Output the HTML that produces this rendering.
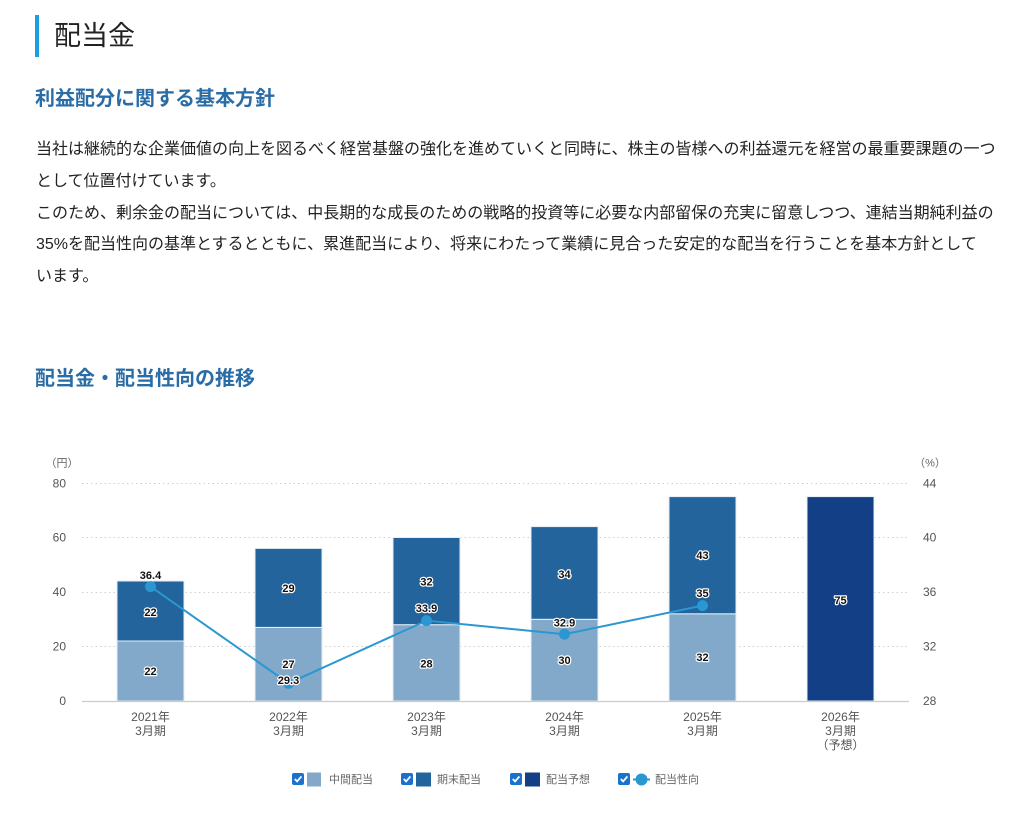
<!DOCTYPE html>
<html lang="ja">
<head>
<meta charset="utf-8">
<style>
  html,body{margin:0;padding:0;background:#fff;}
  body{width:1024px;height:821px;position:relative;overflow:hidden;font-family:"Liberation Sans","Noto Sans CJK JP",sans-serif;}
  .bar{position:absolute;left:35px;top:15px;width:4px;height:42px;background:#1d9ee0;}
  .title{position:absolute;left:54px;top:15px;font-size:27px;line-height:42px;color:#222;font-family:"Liberation Sans","Noto Sans CJK JP",sans-serif;font-weight:400;white-space:nowrap;}
  .h2{position:absolute;left:35px;font-size:20px;font-weight:bold;color:#2a6ca6;white-space:nowrap;line-height:28px;}
  .p{position:absolute;left:36px;top:134px;font-size:16px;line-height:31.8px;color:#222;white-space:nowrap;}
  svg{position:absolute;left:0;top:0;}
  .t{font-family:"Liberation Sans","Noto Sans CJK JP",sans-serif;}
</style>
</head>
<body>
<div class="bar"></div>
<div class="title">配当金</div>
<div class="h2" style="top:85px;">利益配分に関する基本方針</div>
<div class="p">当社は継続的な企業価値の向上を図るべく経営基盤の強化を進めていくと同時に、株主の皆様への利益還元を経営の最重要課題の一つ<br>として位置付けています。<br>このため、剰余金の配当については、中長期的な成長のための戦略的投資等に必要な内部留保の充実に留意しつつ、連結当期純利益の<br>35%を配当性向の基準とするとともに、累進配当により、将来にわたって業績に見合った安定的な配当を行うことを基本方針として<br>います。</div>
<div class="h2" style="top:365px;">配当金・配当性向の推移</div>

<svg width="1024" height="821" viewBox="0 0 1024 821">
  <!-- gridlines -->
  <g stroke="#cfcfcf" stroke-width="1" stroke-dasharray="1.5,3">
    <line x1="82" y1="483.5" x2="908" y2="483.5"/>
    <line x1="82" y1="537.5" x2="908" y2="537.5"/>
    <line x1="82" y1="592.5" x2="908" y2="592.5"/>
    <line x1="82" y1="646.5" x2="908" y2="646.5"/>
  </g>
  <!-- bars -->
  <g stroke="#e6eef6" stroke-width="1">
    <rect x="117" y="641" width="67" height="60" fill="#82a9c9"/>
    <rect x="117" y="581" width="67" height="60" fill="#22649b"/>
    <rect x="255" y="627.4" width="67" height="73.6" fill="#82a9c9"/>
    <rect x="255" y="548.4" width="67" height="79" fill="#22649b"/>
    <rect x="393" y="624.7" width="67" height="76.3" fill="#82a9c9"/>
    <rect x="393" y="537.5" width="67" height="87.2" fill="#22649b"/>
    <rect x="531" y="619.3" width="67" height="81.7" fill="#82a9c9"/>
    <rect x="531" y="526.6" width="67" height="92.7" fill="#22649b"/>
    <rect x="669" y="613.8" width="67" height="87.2" fill="#82a9c9"/>
    <rect x="669" y="496.6" width="67" height="117.2" fill="#22649b"/>
    <rect x="807" y="496.6" width="67" height="204.4" fill="#123f85"/>
  </g>
  <!-- baseline -->
  <line x1="82" y1="701.5" x2="909" y2="701.5" stroke="#cccccc" stroke-width="1.2"/>
  <!-- left axis -->
  <g class="t" font-size="12" fill="#555" text-anchor="end">
    <text x="66" y="487.5">80</text>
    <text x="66" y="541.5">60</text>
    <text x="66" y="596">40</text>
    <text x="66" y="650.5">20</text>
    <text x="66" y="705">0</text>
  </g>
  <text class="t" x="62" y="466.5" font-size="11" fill="#666" text-anchor="middle">（円）</text>
  <!-- right axis -->
  <g class="t" font-size="12" fill="#555" text-anchor="start">
    <text x="923" y="487.5">44</text>
    <text x="923" y="541.5">40</text>
    <text x="923" y="596">36</text>
    <text x="923" y="650.5">32</text>
    <text x="923" y="705">28</text>
  </g>
  <text class="t" x="930" y="466.5" font-size="11" fill="#666" text-anchor="middle">（%）</text>
  <!-- x labels -->
  <g class="t" font-size="12" fill="#555" text-anchor="middle">
    <text x="150.5" y="721">2021年</text><text x="150.5" y="735">3月期</text>
    <text x="288.5" y="721">2022年</text><text x="288.5" y="735">3月期</text>
    <text x="426.5" y="721">2023年</text><text x="426.5" y="735">3月期</text>
    <text x="564.5" y="721">2024年</text><text x="564.5" y="735">3月期</text>
    <text x="702.5" y="721">2025年</text><text x="702.5" y="735">3月期</text>
    <text x="840.5" y="721">2026年</text><text x="840.5" y="735">3月期</text>
    <text x="840.5" y="749">（予想）</text>
  </g>
  <!-- line -->
  <polyline points="150.5,586.6 288.5,683.3 426.5,620.6 564.5,634.2 702.5,605.6" fill="none" stroke="#2a97d2" stroke-width="2"/>
  <g fill="#2a97d2">
    <circle cx="150.5" cy="586.6" r="5.5"/>
    <circle cx="288.5" cy="683.3" r="5.5"/>
    <circle cx="426.5" cy="620.6" r="5.5"/>
    <circle cx="564.5" cy="634.2" r="5.5"/>
    <circle cx="702.5" cy="605.6" r="5.5"/>
  </g>
  <!-- data labels -->
  <g class="t" font-size="11" font-weight="bold" fill="#111" text-anchor="middle" stroke="#fff" stroke-width="2.4" stroke-linejoin="round" paint-order="stroke">
    <text x="150.5" y="675">22</text>
    <text x="150.5" y="616">22</text>
    <text x="288.5" y="668">27</text>
    <text x="288.5" y="592">29</text>
    <text x="426.5" y="667.5">28</text>
    <text x="426.5" y="585.5">32</text>
    <text x="564.5" y="664">30</text>
    <text x="564.5" y="578">34</text>
    <text x="702.5" y="661">32</text>
    <text x="702.5" y="559">43</text>
    <text x="840.5" y="604">75</text>
    <text x="150.5" y="579">36.4</text>
    <text x="288.5" y="684">29.3</text>
    <text x="426.5" y="612">33.9</text>
    <text x="564.5" y="626.5">32.9</text>
    <text x="702.5" y="597">35</text>
  </g>
  <!-- legend -->
  <g>
    <rect x="292" y="773" width="12" height="12" rx="2" fill="#1b72cc"/>
    <path d="M294.8,779 l2.3,2.4 l4.3,-5" fill="none" stroke="#fff" stroke-width="1.8"/>
    <rect x="307" y="772.5" width="14" height="14" fill="#82a9c9"/>
    <text class="t" x="329" y="783" font-size="11" fill="#666">中間配当</text>

    <rect x="401" y="773" width="12" height="12" rx="2" fill="#1b72cc"/>
    <path d="M403.8,779 l2.3,2.4 l4.3,-5" fill="none" stroke="#fff" stroke-width="1.8"/>
    <rect x="416" y="772.5" width="15" height="14" fill="#22649b"/>
    <text class="t" x="437" y="783" font-size="11" fill="#666">期末配当</text>

    <rect x="510" y="773" width="12" height="12" rx="2" fill="#1b72cc"/>
    <path d="M512.8,779 l2.3,2.4 l4.3,-5" fill="none" stroke="#fff" stroke-width="1.8"/>
    <rect x="525" y="772.5" width="15" height="14" fill="#123f85"/>
    <text class="t" x="546" y="783" font-size="11" fill="#666">配当予想</text>

    <rect x="618" y="773" width="12" height="12" rx="2" fill="#1b72cc"/>
    <path d="M620.8,779 l2.3,2.4 l4.3,-5" fill="none" stroke="#fff" stroke-width="1.8"/>
    <line x1="633" y1="779.5" x2="650" y2="779.5" stroke="#2a97d2" stroke-width="2"/>
    <circle cx="641.5" cy="779.5" r="6" fill="#2a97d2"/>
    <text class="t" x="655" y="783" font-size="11" fill="#666">配当性向</text>
  </g>
</svg>
</body>
</html>
